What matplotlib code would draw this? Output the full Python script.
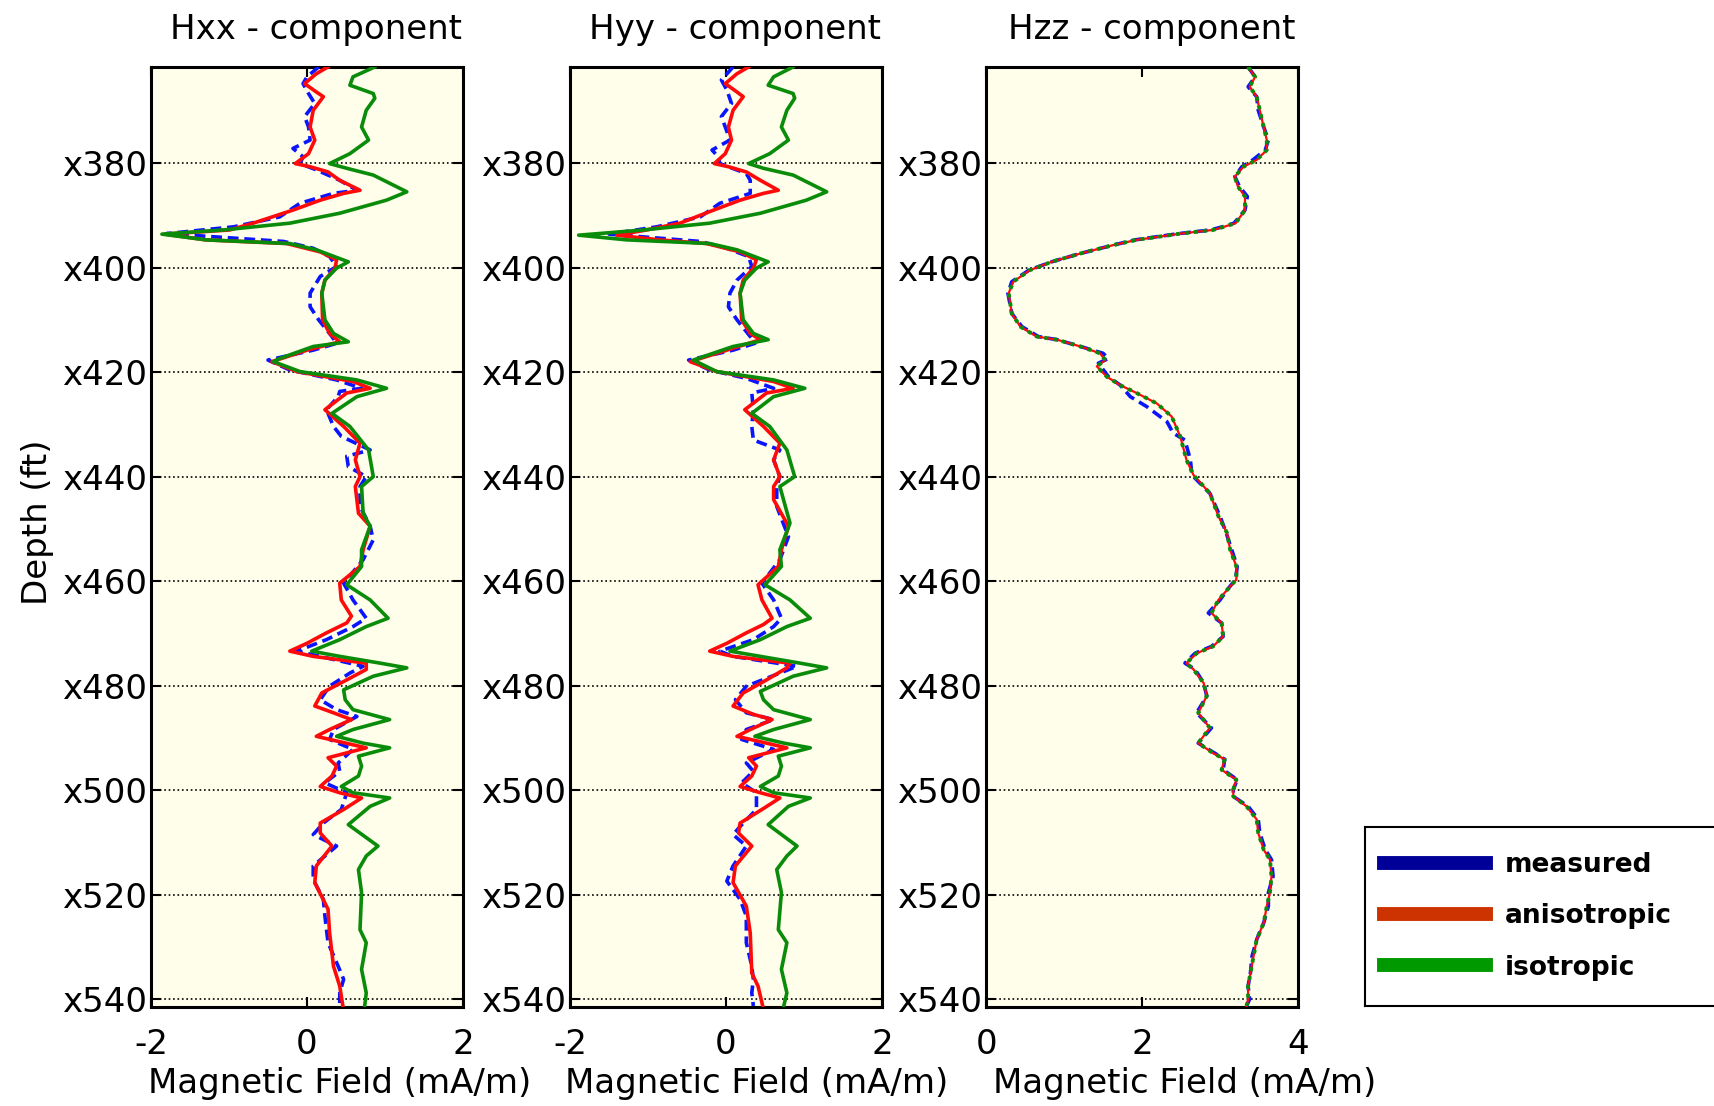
'''
Triaxial induction log - measured vs modelled responses
'''

import numpy as np
import matplotlib.pyplot as plt
from matplotlib.lines import Line2D


### Data (depth in ft, field in mA/m)
hxx_iso_depth = [361.6, 363.5, 365.1, 366.7, 367.6, 369.9, 373.1, 375.6, 378.2, 380.1, 381.0, 382.3, 385.5, 387.1,
                 389.6, 391.5, 392.8, 393.6, 394.7, 395.4, 396.6, 398.9, 400.1, 402.4, 404.9, 410.0, 412.6, 414.2,
                 415.1, 417.4, 418.0, 419.9, 421.5, 423.1, 424.7, 427.9, 430.4, 434.9, 440.0, 441.9, 447.0, 449.5,
                 454.0, 457.2, 460.7, 463.6, 467.1, 468.7, 471.2, 473.4, 474.4, 475.7, 476.6, 478.2, 480.8, 482.7,
                 484.6, 486.5, 488.4, 489.7, 491.0, 491.9, 493.5, 495.4, 497.3, 499.3, 500.5, 501.5, 503.1, 506.6,
                 510.7, 512.6, 515.2, 519.6, 526.7, 529.2, 534.3, 538.8, 541.3]
hxx_iso = [0.87, 0.59, 0.55, 0.85, 0.87, 0.76, 0.70, 0.79, 0.55, 0.29, 0.51, 0.85, 1.28, 1.02,
           0.42, -0.22, -1.07, -1.86, -1.29, -0.22, 0.12, 0.53, 0.38, 0.23, 0.19, 0.23, 0.34, 0.53,
           0.08, -0.35, -0.43, -0.09, 0.64, 1.02, 0.64, 0.32, 0.55, 0.79, 0.85, 0.70, 0.72, 0.81,
           0.70, 0.70, 0.51, 0.81, 1.04, 0.76, 0.42, 0.06, 0.42, 0.94, 1.28, 0.85, 0.47, 0.49,
           0.59, 1.06, 0.59, 0.38, 0.72, 1.06, 0.66, 0.70, 0.66, 0.44, 0.59, 1.06, 0.81, 0.53,
           0.91, 0.76, 0.66, 0.70, 0.68, 0.76, 0.70, 0.76, 0.74]

hxx_aniso_depth = [361.6, 362.9, 364.8, 366.4, 367.3, 369.9, 373.1, 375.6, 378.2, 380.1, 380.7, 381.7, 383.3, 385.2,
                   385.8, 387.1, 389.0, 391.5, 392.8, 393.6, 394.7, 395.4, 397.0, 398.5, 400.1, 402.4, 404.9, 410.0,
                   412.6, 414.2, 415.8, 418.0, 419.9, 421.8, 423.1, 424.0, 427.2, 430.4, 433.6, 436.8, 440.0, 441.9,
                   447.0, 449.5, 454.0, 457.2, 460.4, 463.6, 466.7, 468.0, 469.9, 471.9, 473.4, 474.4, 475.7, 476.9,
                   478.9, 481.4, 483.9, 485.2, 486.5, 488.4, 489.7, 491.9, 493.8, 495.4, 497.3, 499.3, 500.5, 501.5,
                   503.7, 506.3, 508.2, 510.7, 514.5, 517.7, 522.8, 527.3, 533.7, 537.5, 541.3]
hxx_aniso = [0.27, 0.12, -0.03, 0.12, 0.21, 0.08, 0.04, 0.10, 0.02, -0.15, 0.04, 0.27, 0.42, 0.68,
             0.47, 0.17, -0.18, -0.69, -0.99, -1.82, -1.30, -0.26, 0.17, 0.38, 0.36, 0.23, 0.19, 0.20,
             0.29, 0.42, 0.00, -0.45, -0.13, 0.59, 0.81, 0.51, 0.23, 0.47, 0.68, 0.62, 0.68, 0.62,
             0.66, 0.81, 0.72, 0.68, 0.42, 0.44, 0.57, 0.51, 0.25, 0.00, -0.22, 0.08, 0.76, 0.76,
             0.51, 0.19, 0.10, 0.34, 0.57, 0.29, 0.12, 0.76, 0.27, 0.38, 0.32, 0.17, 0.42, 0.70,
             0.47, 0.17, 0.17, 0.32, 0.12, 0.10, 0.27, 0.29, 0.34, 0.42, 0.46]

hxx_meas_depth = [361.6, 363.5, 364.8, 366.7, 368.6, 371.1, 373.1, 375.6, 377.2, 378.8, 380.1, 381.3, 383.3, 385.2,
                  385.8, 387.7, 390.3, 392.2, 393.5, 395.0, 396.3, 397.9, 399.8, 401.7, 404.9, 407.5, 410.0, 413.2,
                  414.5, 415.8, 417.7, 419.6, 421.5, 423.1, 423.7, 424.7, 427.2, 430.4, 432.3, 434.9, 436.1, 438.1,
                  440.0, 441.9, 445.7, 449.5, 452.1, 455.9, 460.4, 463.6, 467.1, 468.7, 471.2, 473.4, 474.4, 476.3,
                  477.6, 480.1, 482.7, 484.6, 485.9, 488.4, 490.3, 492.2, 494.8, 496.4, 498.6, 500.5, 503.7, 506.3,
                  508.5, 510.7, 514.5, 517.1, 520.9, 524.1, 529.2, 533.7, 536.2, 538.8, 541.3]
hxx_meas = [0.15, 0.00, -0.05, 0.02, 0.10, -0.03, 0.02, 0.04, -0.18, -0.05, -0.09, 0.12, 0.42, 0.64,
            0.34, -0.09, -0.35, -0.94, -1.80, -0.30, 0.08, 0.29, 0.38, 0.17, 0.04, 0.04, 0.15, 0.32,
            0.38, 0.08, -0.50, -0.22, 0.38, 0.70, 0.42, 0.40, 0.25, 0.34, 0.44, 0.81, 0.51, 0.53,
            0.76, 0.68, 0.68, 0.81, 0.85, 0.72, 0.47, 0.59, 0.76, 0.59, 0.25, -0.13, 0.17, 0.72,
            0.55, 0.29, 0.17, 0.38, 0.64, 0.34, 0.29, 0.59, 0.40, 0.42, 0.23, 0.51, 0.44, 0.21,
            0.08, 0.38, 0.08, 0.08, 0.21, 0.23, 0.27, 0.40, 0.47, 0.42, 0.42]

hyy_iso_depth = [361.6, 363.5, 365.1, 366.7, 367.6, 369.9, 373.1, 375.6, 378.2, 380.1, 381.0, 382.3, 385.5, 387.1,
                 389.6, 391.5, 392.8, 393.8, 394.7, 395.4, 396.6, 398.9, 400.1, 402.4, 404.9, 410.0, 412.6, 413.8,
                 415.1, 417.7, 419.9, 421.5, 423.1, 424.7, 427.9, 430.4, 434.9, 440.0, 441.9, 448.9, 454.0, 457.2,
                 460.7, 463.6, 467.1, 468.7, 471.2, 473.4, 474.4, 475.7, 476.6, 478.2, 481.1, 482.7, 484.6, 486.5,
                 488.4, 489.7, 491.0, 491.9, 493.5, 495.4, 497.3, 499.3, 500.5, 501.5, 503.1, 506.6, 510.7, 512.6,
                 515.2, 519.6, 526.7, 529.2, 534.3, 538.8, 541.3]
hyy_iso = [0.86, 0.61, 0.54, 0.86, 0.88, 0.78, 0.71, 0.80, 0.56, 0.29, 0.48, 0.86, 1.29, 1.03,
           0.44, -0.21, -1.06, -1.89, -1.27, -0.21, 0.14, 0.54, 0.39, 0.24, 0.18, 0.22, 0.35, 0.54,
           0.09, -0.42, -0.12, 0.61, 1.01, 0.61, 0.33, 0.56, 0.78, 0.88, 0.69, 0.82, 0.69, 0.71,
           0.50, 0.82, 1.08, 0.78, 0.44, 0.05, 0.44, 0.95, 1.29, 0.86, 0.44, 0.48, 0.61, 1.08,
           0.61, 0.37, 0.74, 1.08, 0.67, 0.71, 0.67, 0.44, 0.61, 1.08, 0.80, 0.54, 0.91, 0.78,
           0.65, 0.71, 0.67, 0.78, 0.71, 0.78, 0.74]

hyy_aniso_depth = [361.6, 362.9, 364.8, 366.4, 367.3, 369.9, 373.1, 375.6, 378.2, 380.1, 380.7, 381.7, 383.3, 385.2,
                   385.8, 387.1, 389.0, 391.5, 392.8, 393.8, 394.7, 395.4, 397.0, 398.5, 400.1, 402.4, 404.9, 410.0,
                   412.6, 413.8, 415.8, 418.0, 419.9, 421.8, 423.1, 424.0, 427.2, 430.4, 433.6, 436.8, 440.0, 441.9,
                   444.4, 449.5, 454.0, 457.2, 460.7, 463.6, 467.1, 468.3, 469.9, 471.9, 473.4, 474.4, 475.7, 476.6,
                   478.9, 481.4, 483.9, 485.5, 486.5, 488.4, 489.7, 491.9, 493.8, 495.4, 497.3, 499.3, 500.5, 501.5,
                   503.7, 506.3, 508.2, 510.7, 514.5, 517.7, 522.2, 527.3, 535.0, 537.5, 541.3]
hyy_aniso = [0.29, 0.14, -0.01, 0.14, 0.22, 0.09, 0.03, 0.07, -0.01, -0.15, 0.03, 0.26, 0.44, 0.67,
             0.48, 0.18, -0.16, -0.59, -1.02, -1.40, -0.85, -0.25, 0.18, 0.39, 0.35, 0.22, 0.18, 0.20,
             0.31, 0.44, 0.01, -0.46, -0.12, 0.61, 0.86, 0.52, 0.24, 0.48, 0.69, 0.61, 0.69, 0.61,
             0.61, 0.80, 0.71, 0.67, 0.41, 0.46, 0.59, 0.48, 0.26, 0.01, -0.21, 0.09, 0.82, 0.78,
             0.52, 0.22, 0.09, 0.35, 0.59, 0.31, 0.14, 0.78, 0.29, 0.39, 0.33, 0.18, 0.44, 0.69,
             0.46, 0.18, 0.16, 0.33, 0.12, 0.09, 0.26, 0.31, 0.33, 0.41, 0.47]

hyy_meas_depth = [361.6, 364.1, 366.0, 368.6, 371.1, 373.1, 375.6, 377.5, 378.8, 380.1, 382.0, 383.3, 385.8, 387.7,
                  390.3, 392.2, 393.6, 395.0, 396.3, 397.9, 399.8, 402.4, 404.9, 407.5, 410.0, 413.2, 414.5, 415.8,
                  417.7, 419.6, 421.2, 423.1, 424.0, 427.2, 430.4, 433.0, 434.9, 436.8, 440.0, 441.9, 445.7, 451.5,
                  455.9, 460.4, 463.6, 467.1, 468.7, 471.2, 473.4, 474.4, 476.3, 477.6, 480.1, 482.7, 485.2, 486.5,
                  488.4, 490.3, 492.2, 494.8, 496.4, 498.6, 500.5, 503.7, 506.3, 508.5, 510.7, 514.5, 517.4, 520.9,
                  524.1, 529.2, 533.7, 536.2, 538.8, 541.3]
hyy_meas = [0.09, -0.06, 0.01, 0.07, -0.06, -0.01, 0.05, -0.18, -0.10, -0.08, 0.26, 0.31, 0.31, -0.08,
            -0.33, -0.89, -1.50, -0.33, 0.01, 0.29, 0.33, 0.14, 0.05, 0.03, 0.14, 0.31, 0.37, 0.09,
            -0.48, -0.21, 0.26, 0.61, 0.33, 0.35, 0.33, 0.35, 0.69, 0.61, 0.69, 0.65, 0.65, 0.80,
            0.69, 0.46, 0.61, 0.71, 0.61, 0.35, -0.08, 0.09, 0.91, 0.69, 0.26, 0.12, 0.26, 0.61,
            0.26, 0.20, 0.61, 0.26, 0.35, 0.20, 0.39, 0.39, 0.22, 0.09, 0.26, 0.09, 0.01, 0.18,
            0.26, 0.26, 0.33, 0.35, 0.33, 0.35]

hzz_model_depth = [361.6, 363.5, 365.4, 367.3, 369.9, 373.1, 375.6, 377.5, 379.4, 380.7, 382.6, 384.5, 386.4, 389.0,
                   391.5, 392.2, 392.8, 393.5, 394.7, 395.7, 397.3, 398.9, 400.5, 402.7, 404.9, 408.8, 411.3, 413.2,
                   413.8, 415.1, 416.4, 417.7, 418.9, 420.9, 422.5, 424.0, 426.0, 428.5, 432.3, 436.8, 439.7, 443.2,
                   447.6, 450.8, 454.0, 457.2, 459.7, 461.7, 463.6, 466.1, 468.0, 470.6, 472.5, 473.8, 475.7, 476.9,
                   479.5, 482.0, 485.2, 488.1, 491.0, 492.9, 494.1, 496.1, 498.0, 499.9, 501.2, 503.1, 505.6, 508.2,
                   511.4, 513.3, 516.5, 519.6, 522.2, 525.4, 528.6, 531.8, 535.0, 537.5, 540.0, 541.3]
hzz_aniso = [3.36, 3.45, 3.38, 3.47, 3.51, 3.56, 3.60, 3.60, 3.47, 3.30, 3.19, 3.23, 3.32, 3.32,
             3.20, 3.05, 2.91, 2.49, 1.93, 1.63, 1.21, 0.84, 0.56, 0.35, 0.29, 0.33, 0.44, 0.65,
             0.91, 1.21, 1.46, 1.53, 1.42, 1.55, 1.72, 1.93, 2.19, 2.38, 2.49, 2.57, 2.66, 2.87,
             2.98, 3.09, 3.13, 3.21, 3.21, 3.09, 2.98, 2.89, 3.02, 3.04, 2.91, 2.70, 2.57, 2.66,
             2.79, 2.83, 2.72, 2.87, 2.72, 2.91, 3.06, 3.02, 3.21, 3.17, 3.17, 3.34, 3.47, 3.49,
             3.56, 3.64, 3.66, 3.64, 3.60, 3.56, 3.47, 3.43, 3.39, 3.36, 3.36, 3.34]
hzz_iso = [3.36, 3.45, 3.38, 3.47, 3.51, 3.56, 3.60, 3.60, 3.47, 3.30, 3.19, 3.23, 3.32, 3.32,
           3.20, 3.05, 2.91, 2.49, 1.93, 1.63, 1.21, 0.84, 0.56, 0.35, 0.29, 0.33, 0.44, 0.65,
           0.91, 1.21, 1.46, 1.53, 1.42, 1.55, 1.72, 1.93, 2.19, 2.38, 2.49, 2.57, 2.66, 2.87,
           2.98, 3.09, 3.13, 3.21, 3.21, 3.09, 2.98, 2.89, 3.02, 3.04, 2.91, 2.70, 2.57, 2.66,
           2.79, 2.83, 2.72, 2.87, 2.72, 2.91, 3.06, 3.02, 3.21, 3.17, 3.17, 3.34, 3.47, 3.49,
           3.56, 3.64, 3.66, 3.64, 3.60, 3.56, 3.47, 3.43, 3.39, 3.36, 3.36, 3.34]

hzz_meas_depth = [361.6, 363.5, 365.4, 367.3, 369.9, 373.1, 375.6, 377.5, 379.4, 380.7, 382.6, 384.5, 386.4, 389.0,
                  391.5, 392.2, 392.8, 393.5, 394.7, 395.7, 397.3, 398.9, 400.5, 402.7, 404.9, 408.8, 411.3, 413.2,
                  413.8, 415.1, 416.4, 417.4, 418.3, 420.9, 422.5, 424.7, 426.6, 429.5, 431.7, 433.0, 436.8, 439.7,
                  443.2, 447.6, 450.8, 454.0, 457.2, 459.7, 461.7, 463.6, 466.1, 468.0, 470.6, 472.5, 473.8, 475.7,
                  476.9, 479.5, 482.0, 485.2, 488.1, 491.0, 492.9, 494.1, 496.1, 498.0, 499.9, 501.2, 503.1, 505.6,
                  508.2, 511.4, 513.3, 516.5, 519.6, 522.2, 525.4, 528.6, 531.8, 535.0, 537.5, 540.0, 541.3]
hzz_meas = [3.36, 3.45, 3.36, 3.47, 3.49, 3.56, 3.62, 3.58, 3.42, 3.28, 3.19, 3.25, 3.35, 3.32,
            3.18, 3.03, 2.88, 2.47, 1.91, 1.63, 1.21, 0.84, 0.55, 0.33, 0.28, 0.33, 0.46, 0.67,
            0.91, 1.21, 1.50, 1.57, 1.44, 1.57, 1.72, 1.85, 2.06, 2.32, 2.40, 2.55, 2.62, 2.64,
            2.87, 3.00, 3.08, 3.15, 3.22, 3.20, 3.09, 3.00, 2.85, 3.02, 3.04, 2.89, 2.68, 2.55,
            2.68, 2.79, 2.83, 2.70, 2.89, 2.72, 2.93, 3.06, 3.04, 3.22, 3.17, 3.17, 3.36, 3.49,
            3.51, 3.58, 3.66, 3.68, 3.62, 3.62, 3.56, 3.47, 3.41, 3.39, 3.36, 3.38, 3.34]

depth_ticks = [380, 400, 420, 440, 460, 480, 500, 520, 540]
depth_labels = ['x%d' % d for d in depth_ticks]
titles = ['Hxx - component', 'Hyy - component', 'Hzz - component']
legend_labels = ['measured', 'anisotropic', 'isotropic']


### Charting
plt.rcParams['font.family'] = ['DejaVu Sans']
plt.rcParams['axes.unicode_minus'] = False
FS = 24.5

fig = plt.figure(figsize=(17.14, 11.06), dpi=100)
bg = '#fefeea'
lefts = [0.0881, 0.3326, 0.5753]
xlabel_x = [0.605, 0.597, 0.635]

panels = [
    (hxx_meas_depth, hxx_meas, hxx_aniso_depth, hxx_aniso, hxx_iso_depth, hxx_iso, (-2, 2), [-2, 0, 2]),
    (hyy_meas_depth, hyy_meas, hyy_aniso_depth, hyy_aniso, hyy_iso_depth, hyy_iso, (-2, 2), [-2, 0, 2]),
    (hzz_meas_depth, hzz_meas, hzz_model_depth, hzz_aniso, hzz_model_depth, hzz_iso, (0, 4), [0, 2, 4]),
]

for i, (md, mv, ad, av, idp, iv, xlim, xticks) in enumerate(panels):
    ax = fig.add_axes([lefts[i], 0.0895, 0.182, 0.850])
    ax.set_facecolor(bg)
    ax.grid(axis='y', linestyle=':', color='black', linewidth=1.2)
    ax.set_axisbelow(True)

    ax.plot(mv, md, color='#0a14ff', linestyle=(0, (3, 1.6)), linewidth=2.6, zorder=3)
    if i < 2:
        ax.plot(av, ad, color='#ff0a0a', linewidth=2.6, zorder=4)
        ax.plot(iv, idp, color='#0a8c0a', linewidth=2.6, zorder=5)
    else:
        ax.plot(av, ad, color='#ff0a0a', linewidth=1.6, zorder=4)
        ax.plot(iv, idp, color='#0a8c0a', linestyle=(0, (1, 1.3)), linewidth=2.8, zorder=5)

    ax.set_xlim(*xlim)
    ax.set_ylim(541.5, 361.6)
    ax.set_xticks(xticks)
    ax.set_yticks(depth_ticks)
    ax.set_yticklabels(depth_labels)
    ax.tick_params(direction='in', top=True, right=True, length=7, width=1.5, labelsize=FS)
    ax.tick_params(axis='y', pad=3)
    ax.tick_params(axis='x', pad=15)
    for s in ax.spines.values():
        s.set_linewidth(2.2)
    ax.set_title(titles[i], fontsize=FS, pad=20, x=0.53)
    ax.set_xlabel('Magnetic Field (mA/m)', fontsize=FS)
    ax.xaxis.set_label_coords(xlabel_x[i], -0.064)
    if i == 0:
        ax.set_ylabel('Depth (ft)', fontsize=FS)
        ax.yaxis.set_label_coords(-0.31, 0.516)


### Legend
lax = fig.add_axes([0.7964, 0.0904, 0.25, 0.162])
lax.set_xticks([])
lax.set_yticks([])
for s in lax.spines.values():
    s.set_linewidth(1.5)
handles = [Line2D([], [], color=c, linewidth=10) for c in ['#000099', '#cc3300', '#009900']]
lax.legend(handles, legend_labels, loc='center left', frameon=False, handlelength=3.9, handletextpad=0.7,
           labelspacing=0.95, borderaxespad=0.3, prop={'weight': 'bold', 'size': 19})

fig.savefig('out.png', dpi=100)
